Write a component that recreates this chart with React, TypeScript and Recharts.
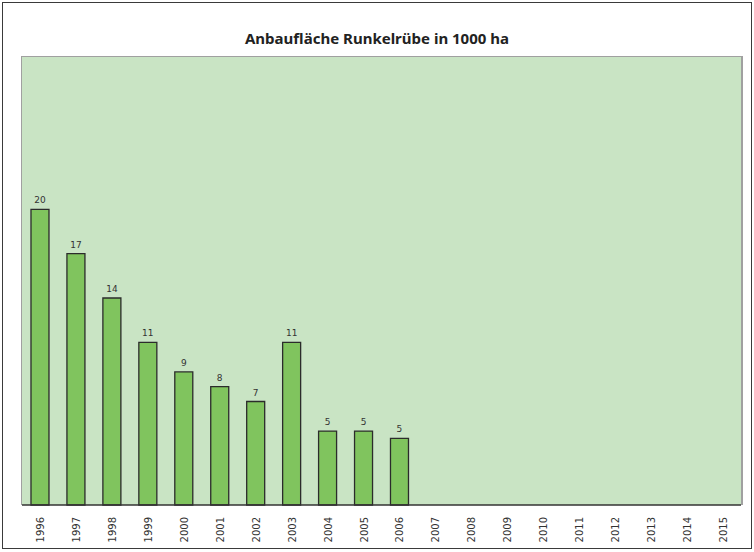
import React from 'react';
import { BarChart, Bar, XAxis, YAxis, CartesianGrid, LabelList } from 'recharts';

const years = ['1996', '1997', '1998', '1999', '2000', '2001', '2002', '2003', '2004', '2005', '2006', '2007', '2008', '2009', '2010', '2011', '2012', '2013', '2014', '2015'];
const areaValues: (number | null)[] = [20, 17, 14, 11, 9, 8, 7, 11, 5, 5, 4.5, null, null, null, null, null, null, null, null, null];

const data = years.map((year, i) => ({ year, area: areaValues[i] }));

const YearTick = (props: any) => {
  const { x, y, payload } = props;
  return (
    <text
      x={0}
      y={0}
      transform={`translate(${x + 4},${y + 4}) rotate(-90)`}
      textAnchor="end"
      fontSize={10}
      fontFamily="DejaVu Sans"
      fill="#333"
    >
      {payload.value}
    </text>
  );
};

export default function App() {
  return (
    <div style={{ position: 'absolute', left: 0, top: 0, width: 754, height: 552, background: '#fff' }}>
      {/* outer frame */}
      <div style={{ position: 'absolute', left: 2, top: 2, width: 748, height: 545, border: '1.5px solid #3a3a3a' }} />
      <div
        style={{
          position: 'absolute',
          top: 28,
          left: 0,
          width: 754,
          textAlign: 'center',
          fontFamily: '"Noto Sans", sans-serif',
          fontWeight: 700,
          fontSize: 15,
          color: '#222',
        }}
      >
        Anbaufläche Runkelrübe in 1000 ha
      </div>
      <div style={{ position: 'absolute', left: 0, top: 0 }}>
        <BarChart
          width={754}
          height={552}
          data={data}
          margin={{ top: 57, right: 13, bottom: 0, left: 22 }}
          barCategoryGap="25%"
        >
          <CartesianGrid fill="#c9e4c4" horizontal={false} vertical={false} stroke="none" />
          <XAxis
            dataKey="year"
            height={47}
            interval={0}
            tick={<YearTick />}
            tickLine={false}
            axisLine={{ stroke: '#333', strokeWidth: 1.5 }}
          />
          <YAxis hide domain={[0, 30.3]} />
          <Bar dataKey="area" fill="#80c45e" stroke="#2b2b2b" strokeWidth={1.3} isAnimationActive={false}>
            <LabelList
              dataKey="area"
              position="top"
              offset={6}
              fontSize={9}
              fontFamily="DejaVu Sans"
              fill="#333"
              formatter={(v: any) => (v == null ? '' : Math.round(v))}
            />
          </Bar>
        </BarChart>
      </div>
      {/* plot frame */}
      <div style={{ position: 'absolute', left: 21, top: 56, width: 719, height: 448, borderTop: '1.5px solid #a0a0a0', borderRight: '2px solid #a0a0a0', borderLeft: '1px solid #a0a0a0', pointerEvents: 'none' }} />
    </div>
  );
}
